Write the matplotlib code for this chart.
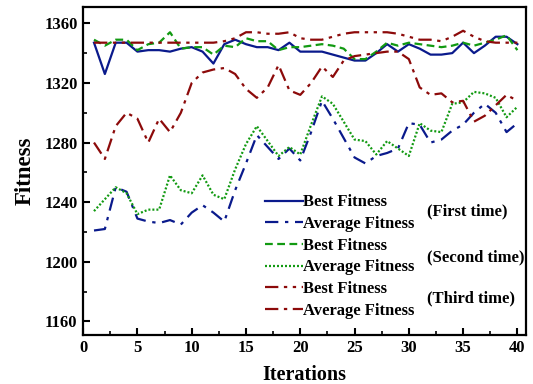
import matplotlib
matplotlib.use("Agg")
import matplotlib.pyplot as plt
import numpy as np

iterations = np.arange(1, 41)

first_best = [1347, 1326, 1347, 1347, 1341, 1342, 1342, 1341, 1343, 1344,
              1341, 1333, 1346, 1349, 1346, 1344, 1344, 1342, 1347, 1341,
              1341, 1341, 1339, 1337, 1335, 1335, 1340, 1346, 1341, 1346,
              1343, 1339, 1339, 1340, 1347, 1340, 1345, 1351, 1351, 1346]
first_avg = [1221, 1222, 1250, 1247, 1229, 1227, 1226, 1228, 1225, 1233,
             1238, 1233, 1227, 1248, 1266, 1285, 1277, 1269, 1276, 1268,
             1287, 1308, 1296, 1283, 1270, 1266, 1271, 1273, 1276, 1293,
             1292, 1280, 1282, 1288, 1292, 1300, 1306, 1300, 1287, 1293]
second_best = [1349, 1345, 1349, 1349, 1342, 1346, 1347, 1354, 1343, 1344,
               1344, 1339, 1345, 1344, 1350, 1348, 1348, 1342, 1344, 1344,
               1345, 1346, 1345, 1343, 1336, 1336, 1341, 1347, 1345, 1347,
               1346, 1345, 1344, 1345, 1347, 1345, 1347, 1349, 1352, 1342]
second_avg = [1234, 1242, 1250, 1246, 1232, 1235, 1235, 1258, 1248, 1246,
              1258, 1245, 1242, 1262, 1279, 1291, 1281, 1271, 1277, 1272,
              1292, 1311, 1306, 1294, 1282, 1281, 1272, 1281, 1276, 1271,
              1293, 1288, 1287, 1306, 1307, 1314, 1313, 1310, 1297, 1304]
third_best = [1347, 1347, 1347, 1347, 1347, 1347, 1347, 1347, 1347, 1347,
              1347, 1347, 1348, 1350, 1354, 1354, 1353, 1353, 1354, 1350,
              1349, 1349, 1351, 1353, 1354, 1354, 1354, 1354, 1353, 1351,
              1349, 1349, 1348, 1351, 1355, 1351, 1348, 1347, 1347, 1347]
third_avg = [1280, 1269, 1291, 1300, 1296, 1280, 1296, 1287, 1300, 1320,
             1327, 1329, 1330, 1326, 1316, 1310, 1317, 1332, 1315, 1312,
             1320, 1331, 1324, 1335, 1338, 1339, 1340, 1341, 1341, 1336,
             1317, 1312, 1313, 1307, 1308, 1294, 1298, 1305, 1312, 1308]

legend_labels = ["Best Fitness", "Average Fitness"] * 3
group_labels = ["(First time)", "(Second time)", "(Third time)"]
x_ticks = [0, 5, 10, 15, 20, 25, 30, 35, 40]
y_ticks = [1160, 1200, 1240, 1280, 1320, 1360]

plt.rcParams['font.family'] = ['Liberation Serif', 'DejaVu Serif']
plt.rcParams['font.weight'] = 'bold'

blue = '#0a1a8c'
green = '#129a12'
red = '#8c0a0a'
lw = 1.6

fig = plt.figure(figsize=(5.33, 3.84), dpi=100)
ax = fig.add_axes([0.156, 0.128, 0.831, 0.854])

ax.plot(iterations, first_best, color=blue, lw=lw, ls='-', label=legend_labels[0])
ax.plot(iterations, first_avg, color=blue, lw=lw, ls=(0, (6, 3, 1.5, 3)), label=legend_labels[1])
ax.plot(iterations, second_best, color=green, lw=lw, ls=(0, (3.5, 2)), label=legend_labels[2])
ax.plot(iterations, second_avg, color=green, lw=lw, ls=(0, (0.9, 0.9)), label=legend_labels[3])
ax.plot(iterations, third_best, color=red, lw=lw, ls=(0, (6, 2.5, 1.5, 2.5, 1.5, 2.5)), label=legend_labels[4])
ax.plot(iterations, third_avg, color=red, lw=lw, ls=(0, (6, 2.5, 1.5, 2.5)), label=legend_labels[5])

ax.set_xlim(0, 40.8)
ax.set_ylim(1151, 1371)
ax.set_xticks(x_ticks)
ax.set_yticks(y_ticks)
ax.set_xticks(np.arange(2.5, 40, 5), minor=True)
ax.set_yticks(np.arange(1180, 1370, 40), minor=True)
ax.tick_params(which='major', direction='in', length=5, width=1.5, labelsize=12, pad=4,
               top=False, right=False)
ax.tick_params(which='minor', direction='in', length=3, width=1.2, top=False, right=False)
for s in ax.spines.values():
    s.set_linewidth(1.6)

ax.set_xlabel("Iterations", fontsize=14.5, fontweight='bold', labelpad=6)
ax.set_ylabel("Fitness", fontsize=16.5, fontweight='bold', labelpad=6)

leg = ax.legend(loc='upper left', bbox_to_anchor=(0.41, 0.428), frameon=False,
                fontsize=12, handlelength=2.3, handletextpad=0.0,
                labelspacing=0.34, borderpad=0, borderaxespad=0)

for label, y in zip(group_labels, [0.375, 0.235, 0.11]):
    ax.text(0.777, y, label, transform=ax.transAxes, fontsize=12, fontweight='bold',
            va='center', ha='left')

fig.savefig("out.png", dpi=100)
